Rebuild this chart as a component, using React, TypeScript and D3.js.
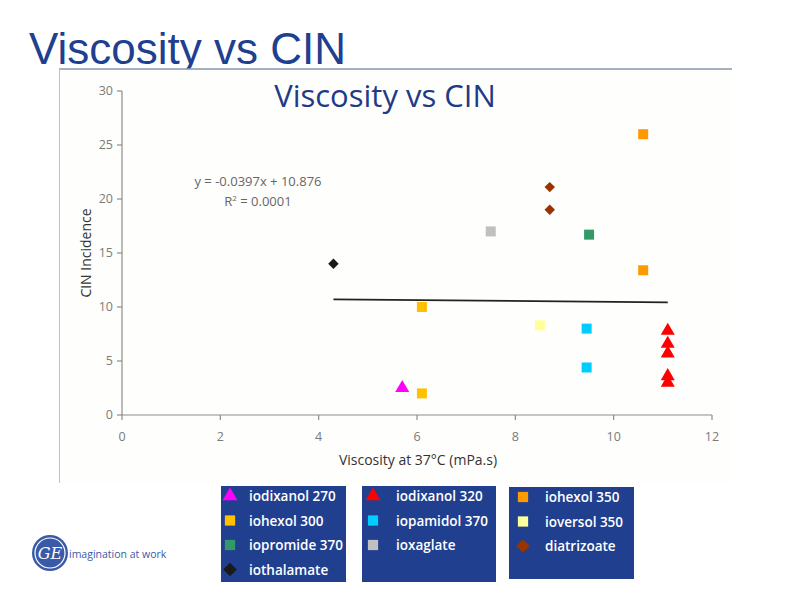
import React from "react";
import { scaleLinear, symbol, symbolTriangle, symbolSquare, symbolDiamond2 } from "d3";

// series: name, colour, marker shape, points [viscosity, CIN incidence]
const seriesNames = [
  "iodixanol 270",
  "iohexol 300",
  "iopromide 370",
  "iothalamate",
  "iodixanol 320",
  "iopamidol 370",
  "ioxaglate",
  "iohexol 350",
  "ioversol 350",
  "diatrizoate",
];
const seriesColors = [
  "#ff00ff",
  "#ffc000",
  "#339966",
  "#1a1a1a",
  "#ff0000",
  "#00ccff",
  "#c0c0c0",
  "#ff9900",
  "#ffff99",
  "#993300",
];
const seriesShapes = ["triangle", "square", "square", "diamond", "triangle", "square", "square", "square", "square", "diamond"];
const seriesPoints: [number, number][][] = [
  [[5.7, 2.5]],
  [[6.1, 10], [6.1, 2]],
  [[9.5, 16.7]],
  [[4.3, 14]],
  [[11.1, 7.8], [11.1, 6.6], [11.1, 5.7], [11.1, 3.6], [11.1, 3.0]],
  [[9.45, 8.0], [9.45, 4.4]],
  [[7.5, 17]],
  [[10.6, 26], [10.6, 13.4]],
  [[8.5, 8.3]],
  [[8.7, 21.1], [8.7, 19]],
];

const xTicks = [0, 2, 4, 6, 8, 10, 12];
const yTicks = [0, 5, 10, 15, 20, 25, 30];

// linear trend y = -0.0397x + 10.876 over the data range
const trendSlope = -0.0397;
const trendIntercept = 10.876;
const trendRange = [4.3, 11.1];

// legend boxes: which series go in each
const legendGroups = [
  [0, 1, 2, 3],
  [4, 5, 6],
  [7, 8, 9],
];

const BLUE = "#213f8f";
const FONT = "'Open Sans', 'Noto Sans', sans-serif";

const shapeOf = (s: string) =>
  s === "triangle" ? symbolTriangle : s === "diamond" ? symbolDiamond2 : symbolSquare;
const sizeOf = (s: string) => (s === "triangle" ? 85 : s === "diamond" ? 70 : 100);
const legendSizeOf = (s: string) => (s === "triangle" ? 95 : s === "diamond" ? 120 : 105);

export default function App() {
  const x = scaleLinear().domain([0, 12]).range([122, 712]);
  const y = scaleLinear().domain([0, 30]).range([415, 91]);

  const legendBoxes = [
    { x: 221, y: 486, w: 125, h: 96, mx: 230, tx: 249 },
    { x: 362, y: 486, w: 134, h: 96, mx: 373, tx: 396 },
    { x: 509, y: 487, w: 125, h: 92, mx: 523, tx: 545 },
  ];

  return (
    <svg width={800} height={600} style={{ position: "absolute", left: 0, top: 0 }}>
      <rect width={800} height={600} fill="#fff" />

      {/* slide title */}
      <text x={29} y={64} fontFamily="'Liberation Sans', Arial, sans-serif" fontSize={44} fill={BLUE}>
        Viscosity vs CIN
      </text>

      {/* chart panel */}
      <rect x={59} y={69} width={673} height={414} fill="#fefefc" />
      <line x1={59} y1={69} x2={732} y2={69} stroke="#8796ad" strokeWidth={1.5} />
      <line x1={59.5} y1={69} x2={59.5} y2={483} stroke="#b8c2d2" strokeWidth={1} />

      {/* chart title */}
      <text x={385} y={107} textAnchor="middle" fontFamily={FONT} fontSize={31} fill="#1f3a87">
        Viscosity vs CIN
      </text>

      {/* axes */}
      <line x1={x(0)} y1={y(0)} x2={x(12)} y2={y(0)} stroke="#8c8c8c" strokeWidth={1.2} />
      <line x1={x(0)} y1={y(0)} x2={x(0)} y2={y(30)} stroke="#8c8c8c" strokeWidth={1.2} />
      {xTicks.map((t) => (
        <g key={"x" + t}>
          <line x1={x(t)} x2={x(t)} y1={y(0)} y2={y(0) + 5} stroke="#8c8c8c" strokeWidth={1.2} />
          <text x={x(t)} y={y(0) + 26} textAnchor="middle" fontFamily={FONT} fontSize={12.5} fill="#7a7a7a">
            {t}
          </text>
        </g>
      ))}
      {yTicks.map((t) => (
        <g key={"y" + t}>
          <line x1={x(0) - 5} x2={x(0)} y1={y(t)} y2={y(t)} stroke="#8c8c8c" strokeWidth={1.2} />
          <text x={x(0) - 9} y={y(t) + 4} textAnchor="end" fontFamily={FONT} fontSize={12.5} fill="#7a7a7a">
            {t}
          </text>
        </g>
      ))}

      <text
        transform={`translate(91,${(y(0) + y(30)) / 2}) rotate(-90)`}
        textAnchor="middle"
        fontFamily={FONT}
        fontSize={14}
        fill="#333"
      >
        CIN Incidence
      </text>
      <text x={418} y={465} textAnchor="middle" fontFamily={FONT} fontSize={14} fill="#333">
        Viscosity at 37°C (mPa.s)
      </text>

      {/* trendline */}
      <line
        x1={x(trendRange[0])}
        y1={y(trendSlope * trendRange[0] + trendIntercept)}
        x2={x(trendRange[1])}
        y2={y(trendSlope * trendRange[1] + trendIntercept)}
        stroke="#222"
        strokeWidth={1.8}
      />
      <text x={258} y={186} textAnchor="middle" fontFamily={FONT} fontSize={13} fill="#666">
        y = -0.0397x + 10.876
      </text>
      <text x={258} y={206} textAnchor="middle" fontFamily={FONT} fontSize={13} fill="#666">
        R<tspan dy={-5} fontSize={8}>2</tspan>
        <tspan dy={5}> = 0.0001</tspan>
      </text>

      {/* points */}
      {seriesPoints.map((pts, i) =>
        pts.map((p, j) => (
          <path
            key={i + "-" + j}
            d={symbol(shapeOf(seriesShapes[i]), sizeOf(seriesShapes[i]))() || ""}
            transform={`translate(${x(p[0])},${y(p[1])})`}
            fill={seriesColors[i]}
          />
        ))
      )}

      {/* legend */}
      {legendGroups.map((grp, b) => {
        const box = legendBoxes[b];
        return (
          <g key={"lg" + b}>
            <rect x={box.x} y={box.y} width={box.w} height={box.h} fill={BLUE} />
            {grp.map((si, r) => {
              const cy = box.y + 10 + r * 24.5;
              return (
                <g key={si}>
                  <path
                    d={symbol(shapeOf(seriesShapes[si]), legendSizeOf(seriesShapes[si]))() || ""}
                    transform={`translate(${box.mx},${cy})`}
                    fill={seriesColors[si]}
                  />
                  <text
                    x={box.tx}
                    y={cy + 5}
                    fontFamily={FONT}
                    fontSize={13.5}
                    fontWeight={600}
                    fill="#fff"
                  >
                    {seriesNames[si]}
                  </text>
                </g>
              );
            })}
          </g>
        );
      })}

      {/* GE logo */}
      <circle cx={50} cy={553} r={18} fill="#3a5aa8" />
      <circle cx={50} cy={553} r={15} fill="none" stroke="#fff" strokeWidth={1.2} />
      <text
        x={50}
        y={559}
        textAnchor="middle"
        fontFamily="'DejaVu Serif', serif"
        fontStyle="italic"
        fontSize={16}
        fill="#fff"
      >
        GE
      </text>
      <text x={69} y={558} fontFamily={FONT} fontSize={10.5} fill="#3a5aa8">
        imagination at work
      </text>
    </svg>
  );
}
